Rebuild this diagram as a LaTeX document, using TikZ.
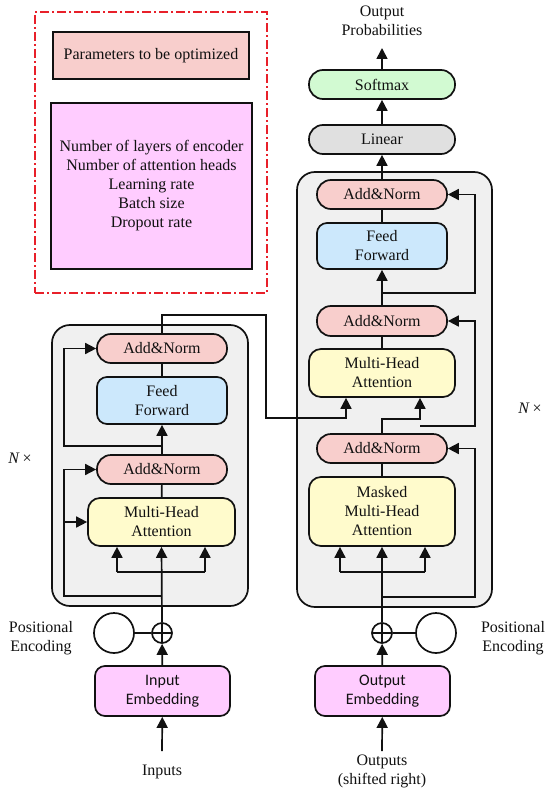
\documentclass[tikz,border=0pt]{standalone}
\usepackage{fontspec}
\setmainfont{Liberation Serif}
\newfontfamily\embfont{Carlito}
\usetikzlibrary{arrows.meta, positioning, calc}
\definecolor{tfInk}{HTML}{111111}
\definecolor{tfPink}{HTML}{F8CECC}
\definecolor{tfBlue}{HTML}{CCE8FC}
\definecolor{tfYellow}{HTML}{FFFBCC}
\definecolor{tfGreen}{HTML}{D2FAD2}
\definecolor{tfGrey}{HTML}{E0E0E0}
\definecolor{tfMagenta}{HTML}{FFCCFF}
\definecolor{tfPanel}{HTML}{F0F0F0}
\definecolor{tfRed}{HTML}{E8202A}
\tikzset{
  block/.style={
    draw=tfInk, line width=1.7pt, rounded corners=10pt,
    align=center, inner sep=2pt, text=tfInk,
    font=\fontsize{16}{19}\selectfont
  },
  addnorm/.style={block, fill=tfPink, rounded corners=14pt,
                  minimum width=130pt, minimum height=29pt},
  ffwd/.style={block, fill=tfBlue, minimum width=130pt, minimum height=47pt},
  attn/.style={block, fill=tfYellow, rounded corners=12pt, minimum width=146pt},
  headbox/.style={block, rounded corners=14pt, minimum width=146pt, minimum height=29pt},
  embed/.style={block, fill=tfMagenta, minimum width=135pt, minimum height=50pt,
                font=\embfont\fontsize{16}{19}\selectfont},
  panel/.style={draw=tfInk, line width=1.7pt, fill=tfPanel, rounded corners=18pt},
  pe/.style={circle, draw=tfInk, line width=1.7pt, minimum size=40pt, inner sep=0pt},
  plus/.style={circle, draw=tfInk, line width=1.7pt, minimum size=20pt, inner sep=0pt,
    path picture={\draw[line width=1.5pt]
      (path picture bounding box.north) -- (path picture bounding box.south)
      (path picture bounding box.west) -- (path picture bounding box.east);}},
  lbl/.style={align=center, text=tfInk, inner sep=1pt, font=\fontsize{16}{19}\selectfont},
  flow/.style={-{Triangle[length=11pt, width=11pt]}, line width=1.7pt, draw=tfInk},
  link/.style={line width=1.7pt, draw=tfInk},
}

\begin{document}
\begin{tikzpicture}[x=1pt, y=-1pt]
  \useasboundingbox (0,0) rectangle (550,789);

  % hyper-parameters
  \node[draw=tfRed, line width=1.7pt, dash pattern=on 9pt off 3pt on 2pt off 3pt,
        minimum width=232pt, minimum height=281pt] (frame) at (151,152.5) {};
  \node[block, rounded corners=0pt, fill=tfPink, minimum width=196pt,
        minimum height=47pt] (params) at (151,55.5) {Parameters to be optimized};
  \node[block, rounded corners=0pt, fill=tfMagenta, minimum width=201pt,
        minimum height=166pt] (plist) at (151.5,186)
    {Number of layers of encoder\\Number of attention heads\\Learning rate\\Batch size\\Dropout rate};

  % encoder
  \node[panel, minimum width=196pt, minimum height=281pt] (encBox) at (150,465.5) {};
  \node[addnorm] (encAN2) at (162,348.5) {Add\&Norm};
  \node[ffwd] (encFF) at (162,400.5) {Feed\\Forward};
  \node[addnorm] (encAN1) at (162,469.5) {Add\&Norm};
  \node[attn, minimum width=147pt, minimum height=48pt] (encMHA) at (161.5,522) {Multi-Head\\Attention};
  \node[plus] (encPlus) at (162,633) {};
  \node[pe] (encPE) at (114,633) {};
  \node[embed] (encEmb) at (162.5,691) {Input\\Embedding};
  \node[lbl] (inputs) at (162,772) {Inputs};
  \node[lbl] (encPElbl) at (41,638) {Positional\\Encoding};
  \node[lbl] (encN) at (20,458) {\textit{N}\,×};
  \coordinate (inTail) at (162,751);

  % decoder
  \node[panel, minimum width=195pt, minimum height=435pt] (decBox) at (394.5,389.5) {};
  \node[addnorm] (decAN3) at (382,194.5) {Add\&Norm};
  \node[ffwd, minimum height=46pt] (decFF) at (382,246) {Feed\\Forward};
  \node[addnorm, minimum height=30pt] (decAN2) at (382,321) {Add\&Norm};
  \node[attn, minimum height=48pt] (decMHA) at (382,373) {Multi-Head\\Attention};
  \node[addnorm] (decAN1) at (382,448.5) {Add\&Norm};
  \node[attn, minimum height=69pt] (decMMHA) at (382,511.5) {Masked\\Multi-Head\\Attention};
  \node[plus] (decPlus) at (382,633) {};
  \node[pe] (decPE) at (436,633) {};
  \node[embed] (decEmb) at (382.5,691) {Output\\Embedding};
  \node[lbl] (outputs) at (382,771) {Outputs\\(shifted right)};
  \node[lbl] (decPElbl) at (513,638) {Positional\\Encoding};
  \node[lbl] (decN) at (530,408) {\textit{N}\,×};
  \coordinate (outTail) at (382,751);
  \node[headbox, fill=tfGrey] (linear) at (382,139.5) {Linear};
  \node[headbox, fill=tfGreen] (softmax) at (382,84.5) {Softmax};
  \node[lbl] (probs) at (382,21) {Output\\Probabilities};
  \coordinate (probIn) at (382,48);

  % encoder wiring
  \coordinate (eQ) at (117,572);
  \coordinate (eV) at (205,572);
  \coordinate (eR1) at (162,596);
  \coordinate (eL1) at (64,596);
  \coordinate (eR2) at (162,446);
  \coordinate (eOut) at (162,315);
  \coordinate (eTurn) at (266,418);
  \draw[flow] (inTail) -- (encEmb);
  \draw[flow] (encEmb) -- (encPlus);
  \draw[link] (encPE) -- (encPlus);
  \draw[flow] (encPlus.north) -- (encMHA.south);
  \draw[link] (eQ) -- (eV);
  \draw[flow] (eQ) -- (eQ |- encMHA.south);
  \draw[flow] (eV) -- (eV |- encMHA.south);
  \draw[flow] (eR1) -- (eL1) |- (encAN1.west);
  \draw[flow] (eL1 |- encMHA.west) -- (encMHA.west);
  \draw[link] (encMHA) -- (encAN1);
  \draw[flow] (encAN1) -- (encFF);
  \draw[flow] (eR2) -- (eR2 -| eL1) |- (encAN2.west);
  \draw[link] (encFF) -- (encAN2);
  \draw[flow] (encAN2.north) -- (eOut) -| (eTurn) -| ([xshift=-36pt]decMHA.south);

  % decoder wiring
  \coordinate (dQ) at (340,572);
  \coordinate (dV) at (425,572);
  \coordinate (dR1) at (382,597);
  \coordinate (dRt) at (475,597);
  \coordinate (dSplit) at (382,419);
  \coordinate (dR2) at (420,426);
  \coordinate (dR3) at (382,293);
  \draw[flow] (outTail) -- (decEmb);
  \draw[flow] (decEmb) -- (decPlus);
  \draw[link] (decPE) -- (decPlus);
  \draw[flow] (decPlus.north) -- (decMMHA.south);
  \draw[link] (dQ) -- (dV);
  \draw[flow] (dQ) -- (dQ |- decMMHA.south);
  \draw[flow] (dV) -- (dV |- decMMHA.south);
  \draw[flow] (dR1) -- (dRt) |- (decAN1.east);
  \draw[link] (decMMHA) -- (decAN1);
  \draw[flow] (decAN1.north) -- (dSplit) -| ([xshift=38pt]decMHA.south);
  \draw[flow] (dR2) -- (dR2 -| dRt) |- (decAN2.east);
  \draw[link] (decMHA) -- (decAN2);
  \draw[flow] (decAN2) -- (decFF);
  \draw[flow] (dR3) -- (dR3 -| dRt) |- (decAN3.east);
  \draw[link] (decFF) -- (decAN3);
  \draw[flow] (decAN3) -- (linear);
  \draw[flow] (linear) -- (softmax);
  \draw[flow] (softmax) -- (probIn);
\end{tikzpicture}
\end{document}
